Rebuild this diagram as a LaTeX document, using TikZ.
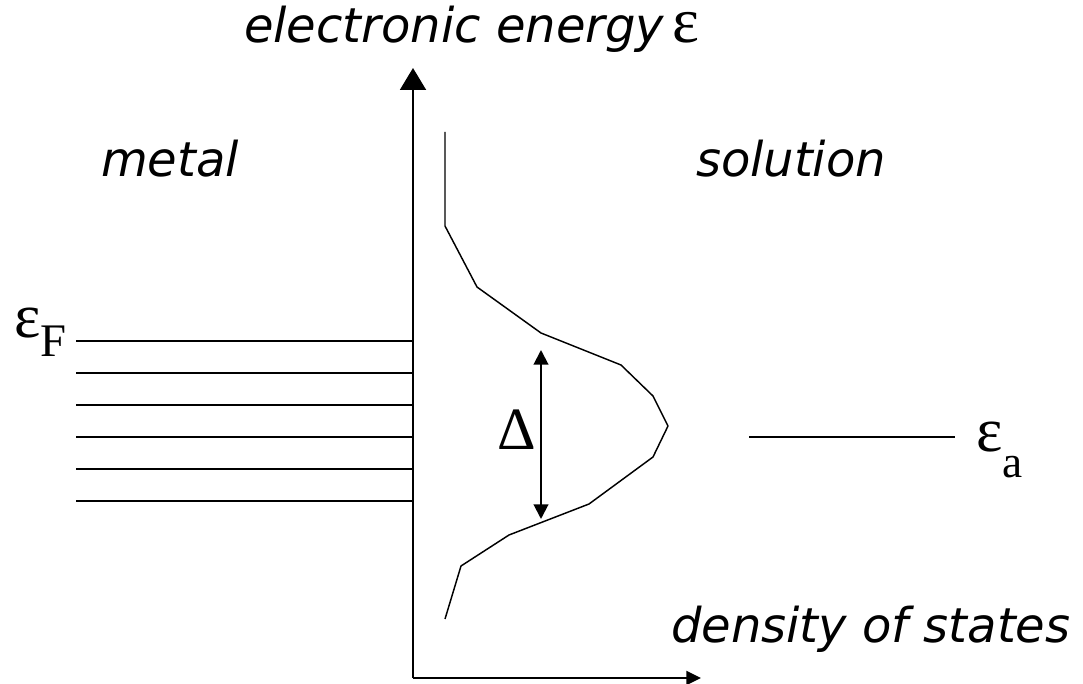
\documentclass[tikz,border=0pt]{standalone}
\usepackage{fontspec}
\setmainfont{Liberation Serif}
\newfontfamily\labelfont{DejaVu Sans}[ItalicFont={DejaVu Sans Oblique}]
\usetikzlibrary{arrows.meta}
\newcommand{\biglabel}{\labelfont\itshape\fontsize{36}{40}\selectfont}

\begin{document}
\begin{tikzpicture}[x=0.75pt,y=-0.75pt,line width=1.5pt,
  tag/.style={inner sep=0pt,anchor=base west}]
\useasboundingbox (0,0) rectangle (1083,684);
% axes
\coordinate (orig) at (413,678);
\coordinate (ytip) at (413,68);
\coordinate (xtip) at (701,678);
\draw[-{Triangle[length=16.5pt,width=19.5pt]}] (orig) -- (ytip);
\draw[-{Triangle[length=11pt,width=10.5pt]}] (orig) -- (xtip);
\node[tag] (yname) at (243,43){\biglabel electronic energy\,\smash{\fontsize{48}{50}\selectfont\upshape\rmfamily ε}};
\node[tag] (xname) at (670,642){\biglabel density of states};
% sides
\node[tag] (metal) at (100,177){\biglabel metal};
\node[tag] (soln) at (695,177){\biglabel solution};
% metal levels
\foreach \i/\y in {1/341,2/373,3/405,4/437,5/469,6/501}
  {\coordinate (lvl\i) at (76,\y); \coordinate (wall\i) at (413,\y); \draw (lvl\i) -- (wall\i);}
\node[tag] (epsF) at (13,338){\fontsize{47}{50}\selectfont ε\raisebox{-14pt}{\fontsize{35}{37}\selectfont F}};
% adsorbate level
\coordinate (aleft) at (749,437);
\coordinate (aright) at (955,437);
\draw (aleft) -- (aright);
\node[tag] (epsA) at (975,452){\fontsize{47}{50}\selectfont ε\raisebox{-19pt}{\fontsize{34}{36}\selectfont a}};
% broadened density of states
\draw[line width=1.1pt,line join=round] (445,132) -- (445,226) -- (477,287) -- (541,333) -- (621,365)
  -- (653,396) -- (668,426) -- (653,457) -- (589,504) -- (509,535) -- (461,566) -- (445,619);
% width
\coordinate (wtop) at (541,350);
\coordinate (wbot) at (541,519);
\draw[{Triangle[length=11pt,width=11pt]}-{Triangle[length=11pt,width=11pt]}] (wtop) -- (wbot);
\node[tag] (delta) at (496,450){\fontsize{45}{48}\selectfont Δ};
\end{tikzpicture}
\end{document}
